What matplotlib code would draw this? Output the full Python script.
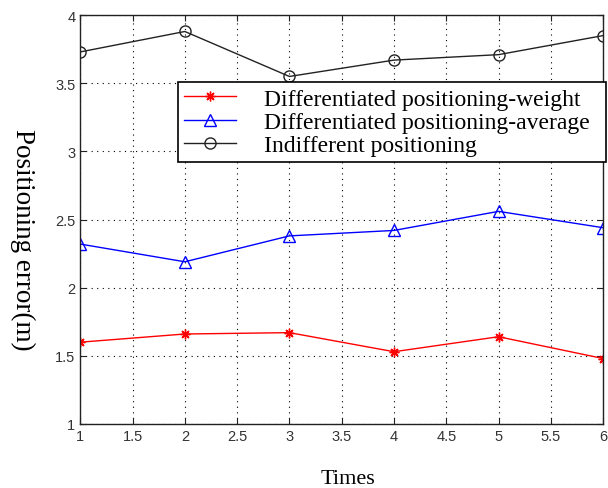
import matplotlib
matplotlib.use("Agg")
import matplotlib.pyplot as plt

times = [1, 2, 3, 4, 5, 6]
weight = [1.60, 1.66, 1.67, 1.53, 1.64, 1.48]
average = [2.32, 2.19, 2.38, 2.42, 2.56, 2.44]
indifferent = [3.73, 3.88, 3.55, 3.67, 3.71, 3.85]

labels = ["Differentiated positioning-weight",
          "Differentiated positioning-average",
          "Indifferent positioning"]
xticks = [1, 1.5, 2, 2.5, 3, 3.5, 4, 4.5, 5, 5.5, 6]
xticklabels = ["1", "1.5", "2", "2.5", "3", "3.5", "4", "4.5", "5", "5.5", "6"]
yticks = [1, 1.5, 2, 2.5, 3, 3.5, 4]
yticklabels = ["1", "1.5", "2", "2.5", "3", "3.5", "4"]

fig = plt.figure(figsize=(6.08, 4.89), dpi=100)
ax = fig.add_axes([0.132, 0.131, 0.860, 0.836])

ax.plot(times, weight, color="red", marker=(8, 2, 0), markersize=7, lw=1.0,
        markeredgewidth=1.0, label=labels[0])
ax.plot(times, average, color="blue", marker="^", markersize=8, lw=1.0,
        markerfacecolor="none", label=labels[1])
ax.plot(times, indifferent, color="#222222", marker="o", markersize=8, lw=1.0,
        markerfacecolor="none", label=labels[2])

ax.set_xlim(1, 6)
ax.set_ylim(1, 4)
ax.set_xticks(xticks)
ax.set_xticklabels(xticklabels, family="Liberation Sans", fontsize=10.5)
ax.set_yticks(yticks)
ax.set_yticklabels(yticklabels, family="Liberation Sans", fontsize=10.5)
ax.tick_params(direction="in", length=4, width=0.8, top=True, right=True,
               colors="#222222", labelcolor="#333333")
ax.grid(True, linestyle=(0, (1, 4)), color="black", linewidth=0.8)
for s in ax.spines.values():
    s.set_color("#222222")
    s.set_linewidth(1.0)

ax.set_xlabel("Times", family="Liberation Serif", fontsize=16, va="center")
ax.xaxis.set_label_coords(0.512, -0.134)
ax.set_ylabel("Positioning error(m)", family="Liberation Serif", fontsize=19.5,
              rotation=-90, va="center", ha="center")
ax.yaxis.set_label_coords(-0.111, 0.452)

leg = ax.legend(loc="upper left", bbox_to_anchor=(0.1874, 0.836, 0.818, 0.0),
                mode="expand", borderaxespad=0,
                prop={"family": "Liberation Serif", "size": 17},
                frameon=True, fancybox=False, framealpha=1, edgecolor="black",
                handlelength=2.2, handletextpad=1.2, borderpad=0.25, labelspacing=0.08)
leg.get_frame().set_linewidth(1.2)

fig.savefig("out.png", dpi=100)
